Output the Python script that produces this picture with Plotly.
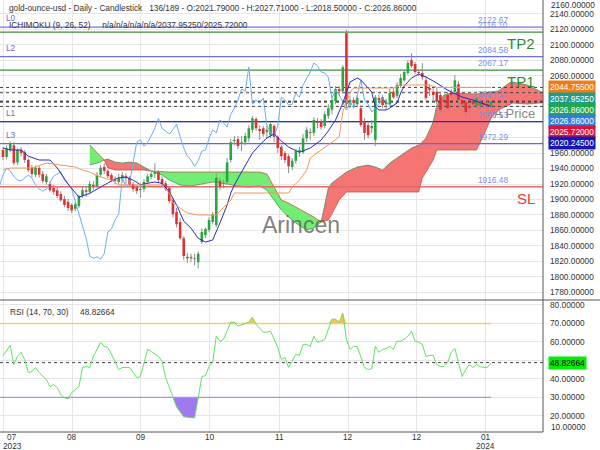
import plotly.graph_objects as go
import numpy as np

# ---------------- data ----------------
opens = [1964, 1955, 1964, 1970, 1948, 1964, 1961, 1951, 1941, 1932,
         1941, 1933, 1922.6, 1920, 1915, 1912, 1907, 1900.6, 1897, 1893,
         1888, 1891.6, 1904.5, 1912, 1910, 1919, 1917, 1932, 1942, 1937,
         1931.6, 1925, 1922.6, 1926.5, 1930, 1928, 1920, 1916, 1912, 1913.5,
         1922.6, 1929, 1933, 1935.5, 1926.5, 1921, 1915, 1899, 1884, 1871,
         1850, 1826, 1824, 1824, 1819, 1845, 1854, 1860.6, 1871, 1867,
         1924, 1920, 1922.6, 1951, 1975.5, 1978, 1973, 1974, 1979, 1990,
         2004, 1991, 1992, 1987, 1983, 1995, 1981, 1968, 1960, 1956,
         1942, 1950, 1961, 1961, 1979, 1987, 1986, 2001, 2001, 1995,
         2008, 2016, 2027, 2042.7, 2040, 2115, 2023, 2028.5, 2023, 2018,
         2000, 1996, 1992, 1977, 2031, 2032, 2024.6, 2023, 2039, 2034,
         2046.6, 2054, 2063.4, 2080, 2075, 2064.7, 2063.4, 2054, 2044, 2039,
         2039, 2035, 2028.5, 2035, 2037.5, 2039, 2049, 2028.5, 2026, 2020.7,
         2027, 2020.7, 2020.7, 2024.6, 2023, 2021.79]
highs = [1968, 1970, 1975, 1974, 1966, 1968, 1964, 1954, 1944.5, 1944,
         1943, 1937, 1933, 1924, 1919, 1916, 1911, 1904.5, 1901, 1895,
         1897, 1906, 1917, 1917, 1924, 1924, 1935.5, 1944.5, 1947, 1939,
         1934, 1930, 1933, 1935.5, 1934, 1930, 1922.6, 1919, 1921, 1926.5,
         1933, 1935.5, 1947, 1938, 1930, 1924, 1917, 1902, 1889, 1876,
         1853, 1831, 1830, 1830, 1833, 1863, 1864, 1877, 1884, 1933,
         1928, 1925, 1953.6, 1978, 1982, 1982, 1982, 1986, 1996, 2008,
         2006.5, 1996, 1995, 1995, 2000, 1997.5, 1983, 1970, 1962.6, 1958.7,
         1953.6, 1965, 1968, 1984.6, 1993.6, 1992, 2006.5, 2005, 2004, 2014,
         2023, 2034, 2046.6, 2046.6, 2073.7, 2119, 2034, 2032, 2035, 2022,
         2005, 2000, 2002.7, 2035, 2036, 2035, 2030, 2042.7, 2044, 2051.7,
         2062, 2068.5, 2080, 2089, 2077.6, 2068.5, 2076, 2059.5, 2049, 2044,
         2044, 2039, 2035, 2039, 2042.7, 2061, 2053, 2032, 2030, 2024.6,
         2032, 2035, 2030, 2028.5, 2027, 2027.71]
lows = [1951, 1952, 1961, 1944, 1944, 1956, 1947, 1935.5, 1929, 1929,
        1928, 1921, 1919, 1910, 1906, 1902, 1897, 1890, 1885, 1882.5,
        1885, 1889, 1902, 1903, 1907, 1912, 1915, 1929, 1933, 1928,
        1922.6, 1920, 1920, 1922.6, 1920, 1916, 1910, 1907, 1902, 1910,
        1920, 1926.5, 1928, 1922.6, 1916, 1911, 1895, 1877, 1864, 1848,
        1822, 1818, 1819, 1815, 1811, 1842.5, 1850, 1858, 1868, 1864,
        1912, 1915, 1920, 1948, 1970, 1965, 1962.6, 1970, 1974, 1986,
        1988.5, 1977, 1981, 1979, 1979, 1974, 1960, 1951, 1947, 1934,
        1938, 1946, 1955, 1958.7, 1974, 1977, 1982, 1992, 1990, 1992,
        2004, 2010, 2023, 2035, 2037.5, 2018, 2018, 2018, 2019.5, 1993.6,
        1977, 1979, 1986, 1969, 2024.6, 2018, 2015.6, 2020.7, 2030, 2031,
        2044, 2051.7, 2061, 2070, 2062, 2059.5, 2054, 2028.5, 2033.7, 2024.6,
        2023, 2011.7, 2022, 2015.6, 2032, 2036, 2024.6, 2019.5, 2006.5, 2011.7,
        2019.5, 2018, 2015.6, 2018, 2018, 2018.50]
closes = [1955, 1966, 1973, 1947, 1964, 1960, 1951, 1938, 1933, 1941,
          1932, 1924, 1930, 1912, 1910, 1904.5, 1899, 1893, 1889, 1886,
          1894, 1904.5, 1912, 1910, 1920, 1917, 1931.6, 1941, 1937, 1930,
          1925, 1924, 1927.7, 1931.6, 1927.7, 1919, 1913.5, 1911, 1913.5, 1922.6,
          1930, 1933, 1935.5, 1925, 1920, 1913.5, 1898, 1881, 1868, 1850,
          1827, 1824, 1826, 1823, 1830, 1858, 1862, 1873.5, 1881, 1928,
          1916, 1921, 1948, 1974, 1977, 1969, 1974, 1982, 1992, 2005,
          1992, 1988.5, 1984.6, 1990, 1997.5, 1981, 1966.5, 1956, 1951, 1943,
          1950, 1962.6, 1964, 1979, 1990, 1986, 2002.7, 1999, 1993.6, 2010,
          2018, 2028.5, 2042.7, 2040, 2071, 2023, 2028.5, 2024.6, 2031, 1996,
          1986, 1983, 1995, 2032, 2028.5, 2022, 2023, 2037.5, 2032, 2048,
          2057, 2064.7, 2076.3, 2072.4, 2064.7, 2063.4, 2058, 2031, 2041.4, 2035,
          2026, 2015.6, 2026, 2018, 2035, 2054, 2028.5, 2023, 2013, 2018,
          2023, 2031, 2027, 2022, 2020.7, 2026.86]

tenkan_bars = [0, 2, 5, 7, 10, 13, 15, 18, 21, 24, 27, 30, 32, 34, 36, 38, 40, 42, 44, 46,
               48, 50, 52, 54, 56, 58, 60, 62, 63, 64, 66, 68, 69, 71, 73, 75, 77, 79, 82, 85,
               88, 90, 92, 94, 96, 98, 99, 101, 102, 103, 104, 106, 107, 109, 110, 111, 113, 115, 117, 120,
               122, 124, 127, 130, 133, 135]
tenkan = [1966.5, 1964, 1964, 1956, 1951, 1951, 1940.7, 1920, 1903, 1908,
          1916, 1924, 1928, 1929, 1925, 1919, 1921, 1922.6, 1921, 1910,
          1893, 1872, 1863, 1850, 1845, 1847.7, 1869.6, 1893, 1908.4, 1918.7,
          1935.5, 1951, 1960, 1970.4, 1979.4, 1984.6, 1975.5, 1967.8, 1961, 1966.5,
          1976.8, 1988.5, 2002.7, 2024.6, 2051.7, 2057, 2054.3, 2044, 2038.8, 2019.5,
          2015.6, 2015.6, 2018.2, 2024.6, 2037.5, 2046.6, 2056.9, 2062, 2058.2, 2050.5,
          2044, 2038.8, 2032.4, 2028.5, 2023.3, 2020.245]

kijun_bars = [0, 2, 8, 12, 16, 20, 22, 24, 27, 30, 32, 44, 46, 47, 51, 54, 59, 61, 63, 64,
              79, 80, 82, 84, 85, 88, 90, 93, 94, 96, 97, 108, 110, 118, 120, 135]
kijun = [1938, 1940.7, 1940.7, 1947, 1944.5, 1942, 1938, 1935.5, 1929, 1925,
         1918.7, 1918.7, 1908.4, 1895.4, 1882.5, 1880, 1880, 1889, 1899.3, 1908.4,
         1908.4, 1916, 1925, 1938, 1953.6, 1964, 1970.4, 1980.7, 2013, 2038.8,
         2044, 2044, 2047.9, 2047.9, 2044.755, 2044.755]

cloud_bars = [24, 26, 28, 29, 31, 33, 35, 37, 39, 41, 44, 46, 49, 52, 55, 58, 62, 65, 68, 71,
              73, 75, 77, 79, 81, 84, 86, 88, 90, 91, 93, 95, 98, 101, 103, 105, 107, 109, 111, 113,
              115, 116, 117, 119, 120, 122, 124, 128, 131, 133, 135, 137, 140, 141, 145, 149, 151]
span_a = [1944.5, 1947, 1951, 1952.3, 1948.4, 1947.1, 1948.4, 1947.1, 1942, 1936.8,
          1931.6, 1925.2, 1918.7, 1917.4, 1920, 1922.6, 1920, 1917.4, 1916.1, 1917.4,
          1912.2, 1899.3, 1886.4, 1877.4, 1869.6, 1860.6, 1863.2, 1870.9, 1914.8, 1921.3,
          1929, 1935.5, 1942, 1944.5, 1942, 1938.1, 1947.1, 1953.6, 1960, 1966.5,
          1970.4, 1974.2, 1979.4, 2000.1, 2022, 2035, 2037.5, 2036.3, 2036.3, 2037.5,
          2038.8, 2040.1, 2050.5, 2051.7, 2047.9, 2038.8, 2037.9525]
span_b = [1970.4, 1961.3, 1951, 1940.7, 1938.1, 1938.1, 1938.1, 1938.1, 1938.1, 1936.8,
          1935.5, 1935.5, 1935.5, 1935.5, 1935.5, 1935.5, 1935.5, 1935.5, 1935.5, 1935.5,
          1932.9, 1916.1, 1899.3, 1895.4, 1890.3, 1882.5, 1877.4, 1870.9, 1873.5, 1881.2,
          1899.3, 1909.7, 1909.7, 1909.7, 1909.7, 1909.7, 1909.7, 1909.7, 1909.7, 1909.7,
          1909.7, 1927.7, 1935.5, 1951, 1963.9, 1963.9, 1963.9, 1963.9, 1963.9, 1983.3,
          2005.2, 2015.6, 2022, 2024.6, 2023.3, 2024.6, 2025.72]

CHIKOU_SHIFT = 26

rsi_bars = [0, 2, 3, 4, 5, 6, 7, 8, 9, 10, 12, 13, 14, 15, 16, 17, 18, 19, 21, 22,
            23, 24, 25, 27, 28, 29, 31, 32, 33, 35, 36, 37, 38, 39, 40, 41, 43, 44, 45, 47,
            48, 50, 53, 54, 55, 56, 57, 58, 59, 60, 61, 63, 64, 65, 66, 68, 69, 70, 72, 73,
            74, 76, 77, 78, 79, 81, 82, 83, 84, 85, 86, 87, 88, 89, 90, 91, 92, 93, 94, 95,
            96, 97, 98, 99, 100, 101, 102, 103, 104, 105, 106, 107, 108, 109, 110, 111, 112, 113, 114, 115,
            116, 117, 118, 119, 120, 121, 122, 123, 124, 125, 126, 127, 128, 129, 130, 131, 132, 133, 134, 135]
rsi_vals = [52.5, 58.2, 47.8, 52.2, 54.4, 50.5, 43.5, 44.0, 46.2, 43.5, 39.6, 35.8, 36.9, 35.3, 31.5, 29.8, 29.3, 32.6, 35.8, 46.2,
            46.7, 46.2, 52.2, 59.8, 57.6, 57.1, 49.5, 45.1, 46.2, 46.2, 43.5, 40.7, 41.3, 48.9, 56.0, 54.9, 52.2, 49.5, 40.7, 30.4,
            24.9, 19.5, 18.9, 29.8, 41.3, 41.8, 46.7, 48.9, 63.1, 60.4, 61.4, 70.7, 70.7, 68.5, 69.1, 70.7, 73.4, 69.6, 65.3, 65.3,
            65.8, 57.1, 50.5, 51.6, 46.2, 53.3, 52.7, 58.7, 58.7, 57.6, 63.1, 59.8, 60.5, 61.4, 66.9, 72.3, 72.3, 70.7, 75.6, 61.4,
            56.0, 57.6, 57.6, 51.6, 46.2, 45.1, 45.5, 57.6, 54.4, 56.0, 56.5, 57.6, 56.0, 60.4, 60.4, 61.5, 63.1, 65.8, 60.4, 59.8,
            58.7, 52.2, 52.7, 52.7, 47.8, 46.7, 46.7, 48.9, 54.4, 56.5, 48.9, 41.3, 45.1, 47.8, 46.2, 47.8, 46.5, 46.2, 46.2, 48.82664]
rsi_current = 48.82664

levels = [2122.67, 2116.10, 2084.58, 2067.17, 2000.53, 1972.29, 1916.48]
level_colors = ["#7676e8", "#3d8f3d", "#7070e6", "#3d8f3d", "#2e2ec4", "#6464f0", "#e46a6a"]
level_tags = [("L0", 2122.67), ("L2", 2084.58), ("L1", 2000.53), ("L3", 1972.29)]
level_price_labels = [2122.67, 2116.10, 2084.58, 2067.17, 2027.17, 2000.53, 1972.29, 1916.48]
targets = [("TP2", 2116.10, "#2e8b2e"), ("TP1", 2067.17, "#2e8b2e"), ("SL", 1916.48, "#e23b3b")]
current_values = [2044.755, 2037.9525, 2026.86, 2026.86, 2025.72, 2020.245]
current_colors = ["#f07d14", "#1f9c8c", "#22a64a", "#2f7fe0", "#dc143c", "#1515b5"]

price_ticks = list(range(1780, 2141, 20))
hidden_price_ticks = [2040, 2020, 2000, 1980]   # covered by the value boxes
rsi_ticks = [20, 30, 40, 50, 60, 70, 80]
hidden_rsi_ticks = [50]                          # covered by the RSI value box
month_ticks = [0, 19.09, 38.17, 57.26, 76.35, 95.44, 114.52, 133.61]
month_labels = ["07", "08", "09", "10", "11", "12", "12", "01"]
year_labels = ["2023", "", "", "", "", "", "", "2024"]

title_text = ("gold-ounce-usd - Daily - Candlestick\u00a0\u00a0\u00a0136/189 - O:2021.79000 - "
              "H:2027.71000 - L:2018.50000 - C:2026.86000")
ichi_text = "ICHIMOKU (9, 26, 52)\u00a0\u00a0\u00a0\u00a0\u00a0n/a/n/a/n/a/n/a/2037.95250/2025.72000"
rsi_text = "RSI (14, 70, 30)\u00a0\u00a0\u00a0\u00a0\u00a048.82664"

# ---------------- figure ----------------
X_LO, X_HI = -0.83, 149.38
P_LO, P_HI = 1770.2, 2157.7
R_LO, R_HI = 11.3, 82.7
SPLIT = 132 / 432
FONT = "Liberation Sans, Arial, sans-serif"

fig = go.Figure()

def add(tr, pane=1):
    if pane == 1:
        tr.update(xaxis="x", yaxis="y")
    else:
        tr.update(xaxis="x2", yaxis="y2")
    tr.update(hoverinfo="skip", showlegend=False)
    fig.add_trace(tr)

# Ichimoku cloud
cxa = np.array(cloud_bars, float)
ca = np.array(span_a, float)
cb = np.array(span_b, float)
d = ca - cb
start = 0
for k in range(1, len(cxa)):
    if d[k] == 0 or k == len(cxa) - 1:
        s, e = start, k
        col = "rgba(244,110,110,0.95)" if d[s:e + 1].sum() > 0 else "rgba(108,236,108,0.95)"
        xs = list(cxa[s:e + 1]) + list(cxa[s:e + 1][::-1])
        ys = list(ca[s:e + 1]) + list(cb[s:e + 1][::-1])
        add(go.Scatter(x=xs, y=ys, mode="lines", fill="toself", fillcolor=col, line=dict(width=0)))
        start = k
add(go.Scatter(x=cloud_bars, y=span_a, mode="lines", line=dict(color="rgba(50,140,80,0.7)", width=1)))
add(go.Scatter(x=cloud_bars, y=span_b, mode="lines", line=dict(color="rgba(190,70,50,0.7)", width=1)))

# horizontal levels
for v, c in zip(levels, level_colors):
    add(go.Scatter(x=[X_LO, X_HI], y=[v, v], mode="lines", line=dict(color=c, width=1.3)))

# current value dashed lines
for v in current_values:
    add(go.Scatter(x=[X_LO, X_HI], y=[v, v], mode="lines", line=dict(color="#444", width=1, dash="3px,3px")))

# candles: wicks then bodies
wx, wy = [], []
for i, (h, l) in enumerate(zip(highs, lows)):
    wx += [i, i, None]
    wy += [l, h, None]
add(go.Scatter(x=wx, y=wy, mode="lines", line=dict(color="#8f8f8f", width=1)))
gx, gy, rx, ry = [], [], [], []
for i, (o, c) in enumerate(zip(opens, closes)):
    if c >= o:
        gx += [i, i, None]; gy += [o, c, None]
    else:
        rx += [i, i, None]; ry += [o, c, None]
add(go.Scatter(x=gx, y=gy, mode="lines", line=dict(color="#27a641", width=2.6)))
add(go.Scatter(x=rx, y=ry, mode="lines", line=dict(color="#e03030", width=2.6)))

# chikou (close shifted back)
idx = np.arange(len(closes))
add(go.Scatter(x=idx - CHIKOU_SHIFT, y=closes, mode="lines", line=dict(color="#6aaeef", width=1)))
# tenkan, kijun
add(go.Scatter(x=tenkan_bars, y=tenkan, mode="lines", line=dict(color="#2b2bc0", width=1)))
add(go.Scatter(x=kijun_bars, y=kijun, mode="lines", line=dict(color="#f4995a", width=1)))

# RSI pane
rb = np.array(rsi_bars, float)
rv = np.array(rsi_vals, float)
add(go.Scatter(x=rb, y=np.full(len(rb), 70.0), mode="lines", line=dict(width=0)), 2)
add(go.Scatter(x=rb, y=np.maximum(rv, 70), mode="lines", fill="tonexty",
               fillcolor="rgba(244,190,70,0.9)", line=dict(width=0)), 2)
add(go.Scatter(x=rb, y=np.full(len(rb), 30.0), mode="lines", line=dict(width=0)), 2)
add(go.Scatter(x=rb, y=np.minimum(rv, 30), mode="lines", fill="tonexty",
               fillcolor="rgba(150,105,240,0.9)", line=dict(width=0)), 2)
add(go.Scatter(x=[X_LO, rb[-1]], y=[70, 70], mode="lines", line=dict(color="#f9c67a", width=1.3)), 2)
add(go.Scatter(x=[X_LO, rb[-1]], y=[30, 30], mode="lines", line=dict(color="#b48ce8", width=1.3)), 2)
add(go.Scatter(x=[X_LO, X_HI], y=[rsi_current, rsi_current], mode="lines",
               line=dict(color="#444", width=1, dash="3px,3px")), 2)
add(go.Scatter(x=rb, y=rv, mode="lines", line=dict(color="#5fe35f", width=1)), 2)

grid = "#e6e6e6"
fig.update_layout(
    width=600, height=450, margin=dict(l=0, r=57, t=0, b=18),
    paper_bgcolor="white", plot_bgcolor="white", showlegend=False,
    font=dict(family=FONT, size=8.3, color="#333"),
    xaxis=dict(domain=[0, 1], range=[X_LO, X_HI], anchor="y", tickvals=month_ticks,
               showticklabels=False, showgrid=True, gridcolor=grid, zeroline=False, ticks=""),
    xaxis2=dict(domain=[0, 1], range=[X_LO, X_HI], anchor="y2", matches="x", tickvals=month_ticks,
                showticklabels=False, showgrid=True, gridcolor=grid, zeroline=False, ticks=""),
    yaxis=dict(domain=[SPLIT, 1], range=[P_LO, P_HI], anchor="x", side="right",
               tickvals=price_ticks,
               ticktext=["" if v in hidden_price_ticks else f"{v:.5f}" for v in price_ticks],
               showgrid=True, gridcolor=grid, zeroline=False, ticks="", ticklabelstandoff=6,
               tickfont=dict(size=8.3, color="#333")),
    yaxis2=dict(domain=[0, SPLIT], range=[R_LO, R_HI], anchor="x2", side="right",
                tickvals=rsi_ticks,
                ticktext=["" if v in hidden_rsi_ticks else f"{v:.5f}" for v in rsi_ticks],
                showgrid=True, gridcolor=grid, zeroline=False, ticks="", ticklabelstandoff=6,
                tickfont=dict(size=8.3, color="#333")),
)

PW, PH = 543.0, 432.0
def px(xp): return xp / PW
def py(yp): return (PH - yp) / PH

ann = []
ann.append(dict(x=px(7), y=py(8), xref="paper", yref="paper", text=title_text, showarrow=False,
                xanchor="left", yanchor="middle", font=dict(size=8.3, color="#333")))
ann.append(dict(x=px(7), y=py(25), xref="paper", yref="paper", text=ichi_text, showarrow=False,
                xanchor="left", yanchor="middle", font=dict(size=8.3, color="#333")))
ann.append(dict(x=px(8), y=py(312), xref="paper", yref="paper", text=rsi_text, showarrow=False,
                xanchor="left", yanchor="middle", font=dict(size=8.3, color="#333")))
for tag, v in level_tags:
    ann.append(dict(x=px(4), y=v, xref="paper", yref="y", text=tag, showarrow=False,
                    xanchor="left", yanchor="bottom", yshift=2, font=dict(size=8.3, color="#6a6ad8")))
for v in level_price_labels:
    ann.append(dict(x=px(493), y=v, xref="paper", yref="y", text=f"{v:.2f}", showarrow=False,
                    xanchor="center", yanchor="bottom", yshift=0, font=dict(size=8.3, color="#7b8fe6")))
for t, v, c in targets:
    ann.append(dict(x=px(537), y=v, xref="paper", yref="y", text=t, showarrow=False,
                    xanchor="right", yanchor="top", yshift=-1, font=dict(size=15, color=c)))
ann.append(dict(x=px(537), y=py(113), xref="paper", yref="paper", text="A Price", showarrow=False,
                xanchor="right", yanchor="middle", font=dict(size=13, color="#8a8a8a")))
ann.append(dict(x=px(301), y=py(225), xref="paper", yref="paper", text="Arincen", showarrow=False,
                xanchor="center", yanchor="middle", font=dict(size=23, color="rgba(95,95,95,0.8)")))
for k, (v, c) in enumerate(zip(current_values, current_colors)):
    ann.append(dict(x=px(548), y=current_values[0], xref="paper", yref="y", text=f"{v:.5f}",
                    showarrow=False, xanchor="left", yanchor="middle", yshift=-11.1 * k,
                    bgcolor=c, borderpad=1, font=dict(size=8.3, color="white")))
ann.append(dict(x=px(548), y=rsi_current, xref="paper", yref="y2", text=f"{rsi_current:.5f}",
                showarrow=False, xanchor="left", yanchor="middle", bgcolor="#00ee00", borderpad=1,
                font=dict(size=8.3, color="black")))
ann.append(dict(x=px(549), y=py(5), xref="paper", yref="paper", text="2160.00000", showarrow=False,
                xanchor="left", yanchor="middle", font=dict(size=8.3, color="#333")))
ann.append(dict(x=px(549), y=py(426.5), xref="paper", yref="paper", text="10.00000", showarrow=False,
                xanchor="left", yanchor="middle", font=dict(size=8.3, color="#333")))
for k, (t, m, yl) in enumerate(zip(month_ticks, month_labels, year_labels)):
    sh = 9 if k == 0 else 0
    ann.append(dict(x=t, y=py(437), xref="x2", yref="paper", text=m, showarrow=False,
                    xanchor="center", yanchor="middle", xshift=sh, font=dict(size=8.3, color="#333")))
    if yl:
        ann.append(dict(x=t, y=py(445.5), xref="x2", yref="paper", text=yl, showarrow=False,
                        xanchor="center", yanchor="middle", xshift=sh, font=dict(size=8.3, color="#333")))
fig.update_layout(annotations=ann)

fig.update_layout(shapes=[
    dict(type="line", xref="paper", yref="paper", x0=1, x1=1, y0=0, y1=1, line=dict(color="#555", width=1)),
    dict(type="line", xref="paper", yref="paper", x0=0, x1=600 / PW, y0=SPLIT, y1=SPLIT, line=dict(color="#555", width=1)),
    dict(type="line", xref="paper", yref="paper", x0=0, x1=1, y0=0, y1=0, line=dict(color="#555", width=1)),
])

fig.write_html("out.html")
